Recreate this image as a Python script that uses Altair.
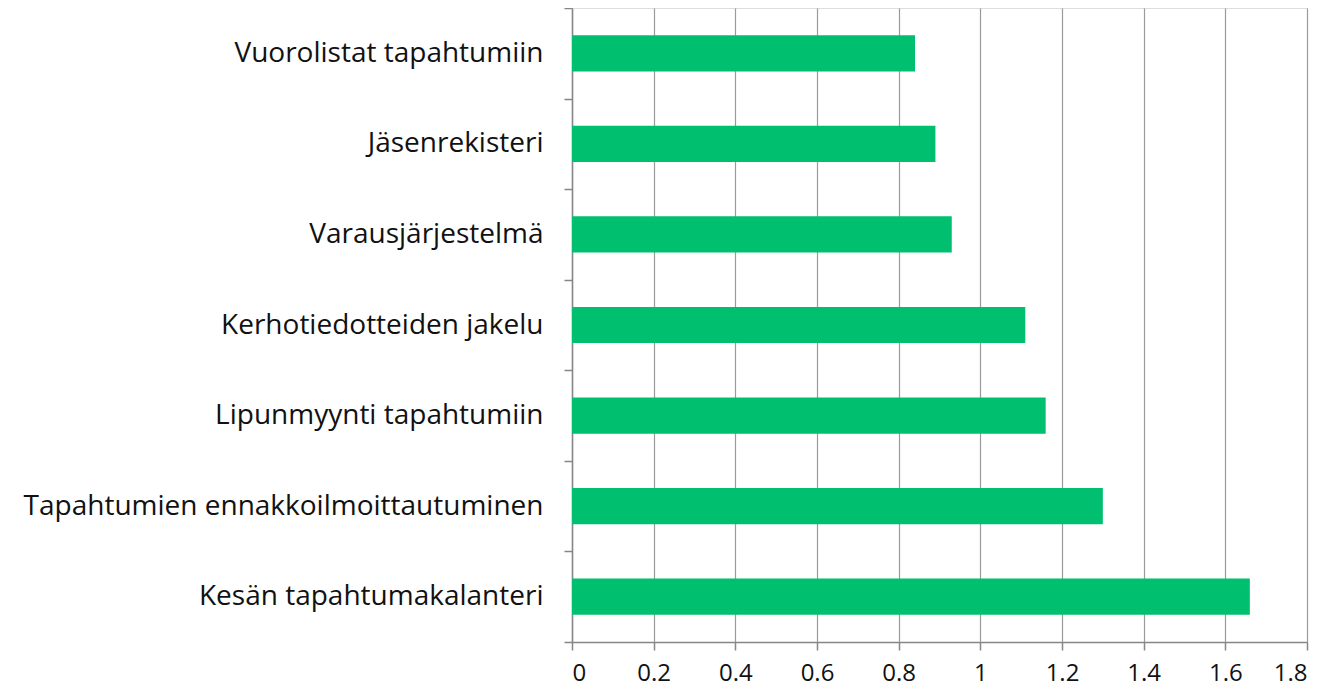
import altair as alt
import pandas as pd

categories = [
    "Vuorolistat tapahtumiin",
    "Jäsenrekisteri",
    "Varausjärjestelmä",
    "Kerhotiedotteiden jakelu",
    "Lipunmyynti tapahtumiin",
    "Tapahtumien ennakkoilmoittautuminen",
    "Kesän tapahtumakalanteri",
]
values = [0.84, 0.89, 0.93, 1.11, 1.16, 1.30, 1.66]
x_ticks = [0, 0.2, 0.4, 0.6, 0.8, 1.0, 1.2, 1.4, 1.6, 1.8]

df = pd.DataFrame({"cat": categories, "val": values})

chart = alt.Chart(df).mark_bar(color="#00BF6F", height={"band": 0.4}).encode(
    x=alt.X(
        "val:Q",
        scale=alt.Scale(domain=[0, 1.8], nice=False, zero=True),
        axis=alt.Axis(
            title=None,
            values=x_ticks,
            labelExpr="datum.value == 0 ? '0' : format(datum.value, '.1~f')",
            grid=True,
            gridColor="#9a9a9a",
            gridWidth=1.2,
            domainColor="#878787",
            domainWidth=1.5,
            tickColor="#878787",
            tickWidth=1.5,
            tickSize=8,
            labelPadding=11,
            labelFontSize=24,
            labelFont="Open Sans",
            labelColor="#111111",
        ),
    ),
    y=alt.Y(
        "cat:N",
        sort=categories,
        scale=alt.Scale(paddingInner=0, paddingOuter=0),
        axis=alt.Axis(
            title=None,
            tickBand="extent",
            ticks=True,
            tickSize=8,
            tickColor="#878787",
            tickWidth=1.5,
            domainColor="#878787",
            domainWidth=1.5,
            labelPadding=21,
            labelFontSize=28,
            labelFont="Open Sans",
            labelColor="#111111",
            labelLimit=700,
            grid=False,
        ),
    ),
).properties(
    width=735,
    height=634,
    autosize=alt.AutoSizeParams(type="none"),
    padding={"left": 564, "top": 0, "right": 17, "bottom": 50},
).configure_view(
    stroke="#878787",
    strokeWidth=1.5,
).configure(background="white")

chart.save("out.html", embed_options={"renderer": "svg", "actions": False})
